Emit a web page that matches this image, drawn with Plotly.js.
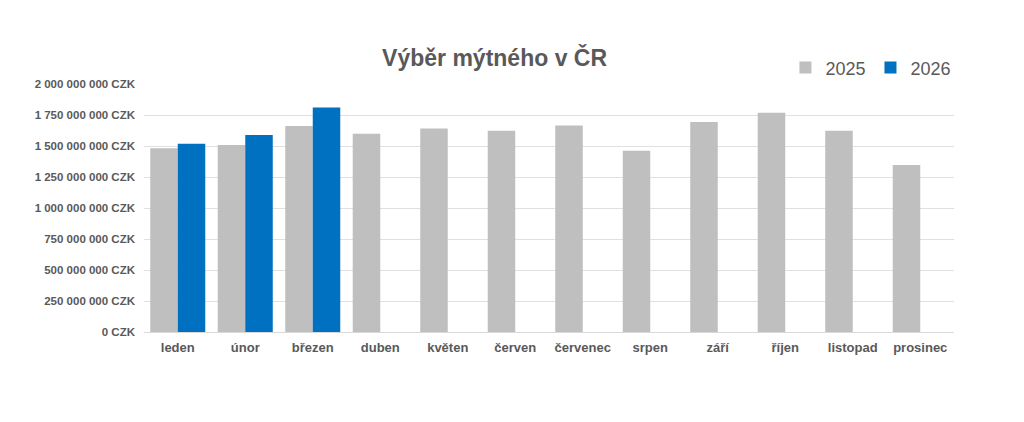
<!DOCTYPE html>
<html>
<head>
<meta charset="utf-8">
<script src="https://cdn.plot.ly/plotly-3.0.1.min.js"></script>
<style>html,body{margin:0;padding:0;background:#fff;}#chart{width:1024px;height:422px;}</style>
</head>
<body>
<div id="chart"></div>
<script>
const months = ["leden","únor","březen","duben","květen","červen","červenec","srpen","září","říjen","listopad","prosinec"];
const values2025 = [1481000000,1508000000,1661000000,1599000000,1642000000,1623000000,1666000000,1462000000,1693000000,1768000000,1623000000,1347000000];
const values2026 = [1519000000,1589000000,1811000000,null,null,null,null,null,null,null,null,null];
const seriesNames = ["2025","2026"];
const tickValues = [0,250000000,500000000,750000000,1000000000,1250000000,1500000000,1750000000,2000000000];
const tickLabels = ["0 CZK","250 000 000 CZK","500 000 000 CZK","750 000 000 CZK","1 000 000 000 CZK","1 250 000 000 CZK","1 500 000 000 CZK","1 750 000 000 CZK","2 000 000 000 CZK"];
const chartTitle = "Výběr mýtného v ČR";

const font = "Liberation Sans, Arial, sans-serif";
const traces = [
  {type:"bar", name:seriesNames[0], x:months, y:values2025, marker:{color:"#BFBFBF"}, hoverinfo:"skip"},
  {type:"bar", name:seriesNames[1], x:months, y:values2026, marker:{color:"#0070C0"}, hoverinfo:"skip"}
];
const layout = {
  width:1024, height:422,
  paper_bgcolor:"#fff", plot_bgcolor:"#fff",
  margin:{l:144, r:70, t:84, b:90, pad:0, autoexpand:false},
  barmode:"group", bargap:0.185, bargroupgap:0,
  title:{text:"<b>"+chartTitle+"</b>", font:{family:font, size:23, color:"#595959"}, x:0.483, xanchor:"center", y:1-58/422, yanchor:"middle"},
  showlegend:true,
  legend:{orientation:"h", x:1.003, xanchor:"right", y:1.065, yanchor:"middle", font:{family:font, size:18, color:"#595959"}, itemwidth:30, traceorder:"normal", bgcolor:"rgba(0,0,0,0)", borderwidth:0},
  xaxis:{type:"category", tickfont:{family:font, size:13, color:"#595959", weight:"bold"}, showgrid:false, showline:false, zeroline:false, ticks:"", ticklabelstandoff:6},
  yaxis:{range:[0,2000000000], tickvals:tickValues, ticktext:tickLabels, tickfont:{family:font, size:11.5, color:"#595959", weight:"bold"}, gridcolor:"#E0E0E0", gridwidth:1, zeroline:true, zerolinecolor:"#D9D9D9", showline:false, ticks:"", ticklabelstandoff:8}
};
Plotly.newPlot("chart", traces, layout, {staticPlot:true, displayModeBar:false});
</script>
</body>
</html>
